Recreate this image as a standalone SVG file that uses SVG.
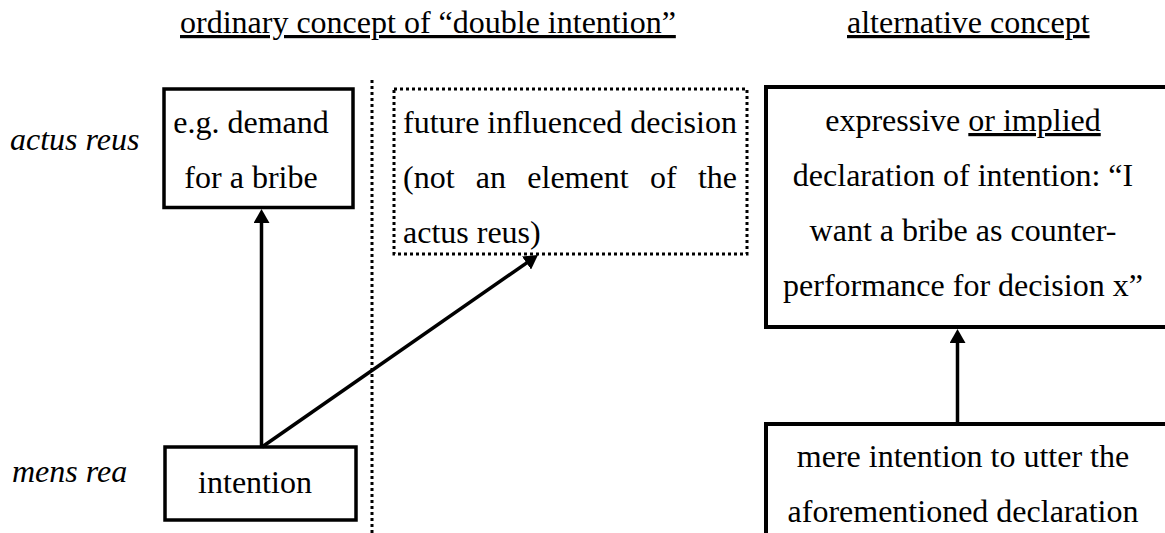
<svg xmlns="http://www.w3.org/2000/svg" width="1165" height="533" viewBox="0 0 1165 533">
  <style>
    text { font-family: "Liberation Serif", "Times New Roman", serif; font-size: 32px; fill: #000; }
    .it { font-style: italic; }
    .ul { text-decoration: underline; }
    .mid { text-anchor: middle; }
    .box { fill: none; stroke: #000; stroke-width: 3.5; }
    .box-wide { fill: none; stroke: #000; stroke-width: 4; }
    .dot { fill: none; stroke: #000; stroke-width: 3; stroke-dasharray: 3 3; }
    .conn { stroke: #000; stroke-width: 3.5; fill: none; marker-end: url(#arrow); }
  </style>
  <defs>
    <marker id="arrow" markerUnits="userSpaceOnUse" markerWidth="14" markerHeight="16" refX="6" refY="8" orient="auto">
      <path d="M0,0 L14,8 L0,16 Z" fill="#000"/>
    </marker>
  </defs>
  <rect width="1165" height="533" fill="#fff"/>

  <!-- column headings -->
  <g id="headings">
    <text class="ul" x="180" y="33">ordinary concept of “double intention”</text>
    <text class="ul" x="847" y="33">alternative concept</text>
  </g>

  <!-- row labels -->
  <g id="row-labels">
    <text class="it" x="10" y="150">actus reus</text>
    <text class="it" x="12" y="482">mens rea</text>
  </g>

  <!-- dotted separator between the two concepts -->
  <g id="separator">
    <line class="dot" x1="372" y1="80" x2="372" y2="533"/>
  </g>

  <g id="demand">
    <rect class="box" x="164" y="89" width="189" height="118.5"/>
    <text class="mid" x="251" y="133">e.g. demand</text>
    <text class="mid" x="251" y="188">for a bribe</text>
  </g>

  <!-- justified paragraph: words placed individually -->
  <g id="future-decision">
    <rect class="dot" x="394" y="89" width="353" height="165"/>
    <text y="133"><tspan x="403">future</tspan><tspan x="487.3">influenced</tspan><tspan x="630.3">decision</tspan></text>
    <text y="188"><tspan x="403">(not</tspan><tspan x="475.8">an</tspan><tspan x="527.3">element</tspan><tspan x="649.9">of</tspan><tspan x="697.9">the</tspan></text>
    <text x="403" y="243">actus reus)</text>
  </g>

  <g id="intention">
    <rect class="box" x="165" y="447" width="191" height="73"/>
    <text class="mid" x="255" y="493">intention</text>
  </g>

  <g id="declaration">
    <rect class="box-wide" x="766" y="87" width="420" height="240"/>
    <text class="mid" x="963" y="131">expressive <tspan class="ul">or implied</tspan></text>
    <text class="mid" x="963" y="186">declaration of intention: “I</text>
    <text class="mid" x="963" y="241">want a bribe as counter-</text>
    <text class="mid" x="963" y="296">performance for decision x”</text>
  </g>

  <g id="mere-intention">
    <rect class="box-wide" x="766" y="424" width="420" height="140"/>
    <text class="mid" x="963" y="467">mere intention to utter the</text>
    <text class="mid" x="963" y="522">aforementioned declaration</text>
  </g>

  <g id="connectors">
    <line class="conn" x1="261.5" y1="447" x2="261.5" y2="217"/>
    <line class="conn" x1="262" y1="447" x2="531.4" y2="259.6"/>
    <line class="conn" x1="957.5" y1="424" x2="957.5" y2="337"/>
  </g>
</svg>
